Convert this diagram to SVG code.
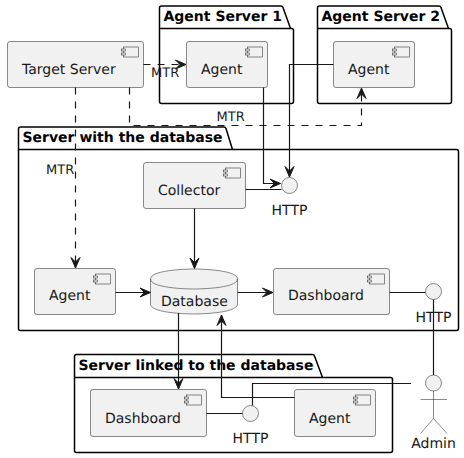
<svg xmlns="http://www.w3.org/2000/svg" width="464" height="458" viewBox="0 0 464 458">
<defs>
<marker id="arrow" markerUnits="userSpaceOnUse" markerWidth="16" markerHeight="14" refX="13" refY="7" orient="auto" overflow="visible">
<path d="M13,7 L2.5,2.5 L7,7 L2.5,11.5 Z" fill="#181818" stroke="#181818" stroke-width="1"/>
</marker>
<g id="icon">
<rect x="-20" y="5.5" width="15" height="10" class="ic"/>
<rect x="-22" y="7.5" width="4" height="2" class="ic"/>
<rect x="-22" y="11.5" width="4" height="2" class="ic"/>
</g>
</defs>
<style>
text{font-family:"DejaVu Sans",sans-serif;font-size:14px;fill:#181818;text-rendering:geometricPrecision}
.t{font-weight:bold;fill:#000}
.pk{fill:none;stroke:#000;stroke-width:1.5;stroke-linejoin:round}
.b{fill:#F1F1F1;stroke:#181818;stroke-width:.5}
.ic{fill:#F1F1F1;stroke:#181818;stroke-width:.5}
.l{font-size:13px}
.c{fill:none;stroke:#181818;stroke-width:1.2}
.a{marker-end:url(#arrow)}
.d{stroke-dasharray:7,7}
.m{text-anchor:middle}
</style>
<g id="pkg-agent1"><path class="pk" d="M159.5,28.5 V8 Q159.5,6 161.5,6 H281 Q282.5,6 283,7.5 L290.5,28.5 H291.5 Q293.5,28.5 293.5,30.5 V101.5 Q293.5,103.5 291.5,103.5 H161.5 Q159.5,103.5 159.5,101.5 Z M159.5,28.5 H290.5"/><text class="t" x="163.5" y="21">Agent Server 1</text></g>
<g id="pkg-agent2"><path class="pk" d="M317.5,28.5 V8 Q317.5,6 319.5,6 H439 Q440.5,6 441,7.5 L448.5,28.5 H449.5 Q451.5,28.5 451.5,30.5 V101.5 Q451.5,103.5 449.5,103.5 H319.5 Q317.5,103.5 317.5,101.5 Z M317.5,28.5 H448.5"/><text class="t" x="321.5" y="21">Agent Server 2</text></g>
<g id="pkg-db"><path class="pk" d="M18.5,149.5 V129 Q18.5,127 20.5,127 H224 Q225.5,127 226,128.5 L232.5,149.5 H456.5 Q458.5,149.5 458.5,151.5 V328.5 Q458.5,330.5 456.5,330.5 H20.5 Q18.5,330.5 18.5,328.5 Z M18.5,149.5 H232.5"/><text class="t" x="22.5" y="142">Server with the database</text></g>
<g id="pkg-linked"><path class="pk" d="M74.5,377.5 V356.5 Q74.5,354.5 76.5,354.5 H312.5 Q314,354.5 314.5,356 L322.5,377.5 H390.5 Q392.5,377.5 392.5,379.5 V450.5 Q392.5,452.5 390.5,452.5 H76.5 Q74.5,452.5 74.5,450.5 Z M74.5,377.5 H322.5"/><text class="t" x="78.5" y="370">Server linked to the database</text></g>
<g id="target"><rect class="b" x="7.5" y="41.5" width="136" height="46" rx="2.5"/><use href="#icon" transform="translate(143.5,41.5)"/><text x="22" y="74">Target Server</text></g>
<g id="agent-1"><rect class="b" x="186.5" y="41.5" width="81" height="46" rx="2.5"/><use href="#icon" transform="translate(267.5,41.5)"/><text x="201" y="74">Agent</text></g>
<g id="agent-2"><rect class="b" x="333.5" y="41.5" width="81" height="46" rx="2.5"/><use href="#icon" transform="translate(414.5,41.5)"/><text x="348" y="74">Agent</text></g>
<g id="collector"><rect class="b" x="143.5" y="162.5" width="102" height="46" rx="2.5"/><use href="#icon" transform="translate(245.5,162.5)"/><text x="158" y="195">Collector</text></g>
<g id="http-1"><circle class="b" cx="289.5" cy="185.5" r="8"/><text class="m" x="289.5" y="215">HTTP</text></g>
<g id="agent-db"><rect class="b" x="34.5" y="268.5" width="81" height="46" rx="2.5"/><use href="#icon" transform="translate(115.5,268.5)"/><text x="49" y="300">Agent</text></g>
<g id="database"><path class="b" d="M150.5,279 C150.5,269 194,269 194,269 C194,269 237.5,269 237.5,279 V304 C237.5,314 194,314 194,314 C194,314 150.5,314 150.5,304 Z"/><path class="b" style="fill:none" d="M150.5,279 C150.5,289 194,289 194,289 C194,289 237.5,289 237.5,279"/><text x="161" y="306">Database</text></g>
<g id="dashboard"><rect class="b" x="273.5" y="268.5" width="116" height="46" rx="2.5"/><use href="#icon" transform="translate(389.5,268.5)"/><text x="288" y="300">Dashboard</text></g>
<g id="http-2"><circle class="b" cx="433.5" cy="291.5" r="8"/><text class="m" x="433.5" y="322">HTTP</text></g>
<g id="dashboard-2"><rect class="b" x="90.5" y="389.5" width="116" height="47" rx="2.5"/><use href="#icon" transform="translate(206.5,389.5)"/><text x="105" y="423">Dashboard</text></g>
<g id="http-3"><circle class="b" cx="250.5" cy="413.5" r="8"/><text class="m" x="250.5" y="443">HTTP</text></g>
<g id="agent-3"><rect class="b" x="294.5" y="389.5" width="81" height="47" rx="2.5"/><use href="#icon" transform="translate(375.5,389.5)"/><text x="309" y="423">Agent</text></g>
<g id="admin"><circle class="b" cx="433.5" cy="383" r="8"/><path class="c" style="stroke-width:.5" d="M433.5,391 V418.5 M420.5,399.5 H447 M420.5,433.5 L433.5,418.5 L447,433.5"/><text class="m" x="433.5" y="448">Admin</text></g>
<g id="connectors">
<path class="c d a" d="M143.5,64.5 H186"/>
<path class="c d a" d="M75.5,87.5 V268"/>
<path class="c d a" d="M129.5,87.5 V125.5 H361.5 V88"/>
<path class="c a" d="M263.5,87.5 V183.5 H280.5"/>
<path class="c a" d="M333.5,64.5 H289.5 V177"/>
<path class="c" d="M245.5,189.5 H281.5"/>
<path class="c a" d="M194.5,208.5 V268.5"/>
<path class="c a" d="M115.5,292.5 H150.5"/>
<path class="c a" d="M237.5,292.5 H273"/>
<path class="c" d="M389.5,292.5 H425.5"/>
<path class="c" d="M433.5,299.5 V375"/>
<path class="c a" d="M178.5,313 V389"/>
<path class="c a" d="M294.5,397.5 H221.5 V315"/>
<path class="c" d="M206.5,413.5 H242.5"/>
<path class="c" d="M411,383.5 H252.5 V405.5"/>
<text class="l" x="151" y="77">MTR</text>
<text class="l" x="46" y="174">MTR</text>
<text class="l" x="216.5" y="121">MTR</text>
</g>
</svg>
